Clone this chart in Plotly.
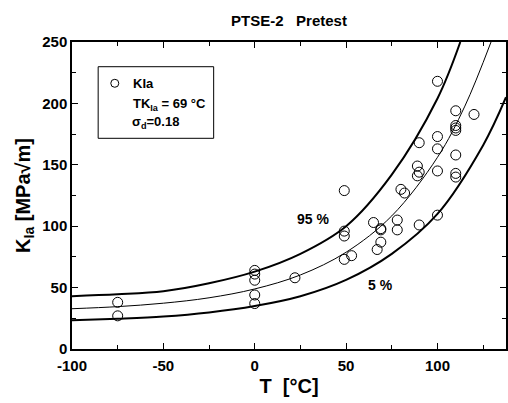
import plotly.graph_objects as go

# ---- data ----
T_data = [-75, -75, 0, 0, 0, 0, 0, 22, 49, 49, 49, 49, 53, 65, 69, 69, 69, 67,
          78, 78, 80, 82, 90, 89, 90, 89, 90, 100, 100, 100, 100, 100,
          110, 110, 110, 110, 110, 110, 110, 120]
K_data = [38, 27, 64, 61, 56, 44, 37, 58, 129, 96, 92, 73, 76, 103, 98, 97, 87, 81,
          105, 97, 130, 127, 168, 149, 144, 141, 101, 218, 173, 163, 145, 109,
          194, 182, 180, 178, 158, 143, 140, 191]

median_T = [-100, -75, -50, -25, 0, 25, 50, 75, 100, 115, 129.3]
median_K = [32.8, 34.5, 37.3, 41.7, 48.9, 60.3, 78.8, 108.4, 156.1, 197.8, 250]

upper_T = [-100, -75, -50, -25, 0, 25, 50, 75, 100, 112.5]
upper_K = [43, 44.5, 47, 53.5, 63, 77.5, 100, 142, 204, 250]

lower_T = [-100, -75, -50, -25, 0, 25, 50, 75, 100, 125, 137.5]
lower_K = [23.4, 24.7, 26.5, 29.8, 35, 43, 56.3, 77.5, 110, 166, 205]

x_ticks = [-100, -50, 0, 50, 100]
x_labels = ["-100", "-50", "0", "50", "100"]
y_ticks = [0, 50, 100, 150, 200, 250]
y_labels = ["0", "50", "100", "150", "200", "250"]

FONT = "Liberation Sans, Arial, sans-serif"

fig = go.Figure()
fig.add_trace(go.Scatter(x=upper_T, y=upper_K, mode="lines", line=dict(color="black", width=2, shape="spline"),
                         showlegend=False, hoverinfo="skip"))
fig.add_trace(go.Scatter(x=median_T, y=median_K, mode="lines", line=dict(color="black", width=1, shape="spline"),
                         showlegend=False, hoverinfo="skip"))
fig.add_trace(go.Scatter(x=lower_T, y=lower_K, mode="lines", line=dict(color="black", width=2, shape="spline"),
                         showlegend=False, hoverinfo="skip"))
fig.add_trace(go.Scatter(x=T_data, y=K_data, mode="markers",
                         marker=dict(symbol="circle-open", size=10, color="black", line=dict(width=1)),
                         showlegend=False, name="KIa"))

axis_common = dict(
    showline=True, linecolor="black", linewidth=1.5, mirror="ticks",
    ticks="inside", ticklen=6, tickwidth=1.2, tickcolor="black",
    showgrid=False, zeroline=False,
    tickfont=dict(family=FONT, size=15, color="black", weight="bold"),
)

fig.update_xaxes(range=[-100, 137.5], tickvals=x_ticks, ticktext=x_labels, ticklabelstandoff=2,
                 minor=dict(dtick=25, tick0=0, ticks="inside", ticklen=4, tickwidth=1, tickcolor="black"),
                 title=dict(text="T  [°C]", font=dict(family=FONT, size=20, color="black", weight="bold"),
                            standoff=6),
                 **axis_common)
fig.update_yaxes(range=[0, 250], tickvals=y_ticks, ticktext=y_labels,
                 minor=dict(dtick=25, tick0=0, ticks="inside", ticklen=4, tickwidth=1, tickcolor="black"),
                 title=dict(text="K<sub>Ia</sub> [MPa√m]", font=dict(family=FONT, size=20, color="black", weight="bold"),
                            standoff=6),
                 **axis_common)

# legend box
fig.add_shape(type="rect", xref="paper", yref="paper", x0=0.0603, x1=0.3264, y0=0.6863, y1=0.9195,
              line=dict(color="black", width=1), fillcolor="white", layer="above")
fig.add_shape(type="circle", xref="paper", yref="paper", xsizemode="pixel", ysizemode="pixel",
              xanchor=0.0986, yanchor=0.8655, x0=-4, x1=4, y0=-4, y1=4,
              line=dict(color="black", width=1), layer="above")
leg_font = dict(family=FONT, size=13, color="black", weight="bold")
fig.add_annotation(text="KIa", xref="paper", yref="paper", x=0.1369, y=0.8655,
                   xanchor="left", yanchor="middle", showarrow=False, font=leg_font)
fig.add_annotation(text="TK<sub>Ia</sub> = 69 °C", xref="paper", yref="paper", x=0.1369, y=0.798,
                   xanchor="left", yanchor="middle", showarrow=False, font=leg_font)
fig.add_annotation(text="σ<sub>d</sub>=0.18", xref="paper", yref="paper", x=0.1345, y=0.737,
                   xanchor="left", yanchor="middle", showarrow=False, font=leg_font)

lab_font = dict(family=FONT, size=14, color="black", weight="bold")
fig.add_annotation(text="95 %", x=32, y=105.6, showarrow=False, font=lab_font)
fig.add_annotation(text="5 %", x=69, y=52.4, showarrow=False, font=lab_font)

fig.update_layout(
    width=508, height=403,
    margin=dict(l=72, r=0, t=42, b=54),
    paper_bgcolor="white", plot_bgcolor="white",
    title=dict(text="PTSE-2\u00a0\u00a0\u00a0Pretest", x=0.5, xref="paper", xanchor="center",
               y=1 - 20.5 / 403, yref="container", yanchor="middle",
               font=dict(family=FONT, size=15, color="black", weight="bold")),
    showlegend=False,
)

fig.write_html("out.html")
